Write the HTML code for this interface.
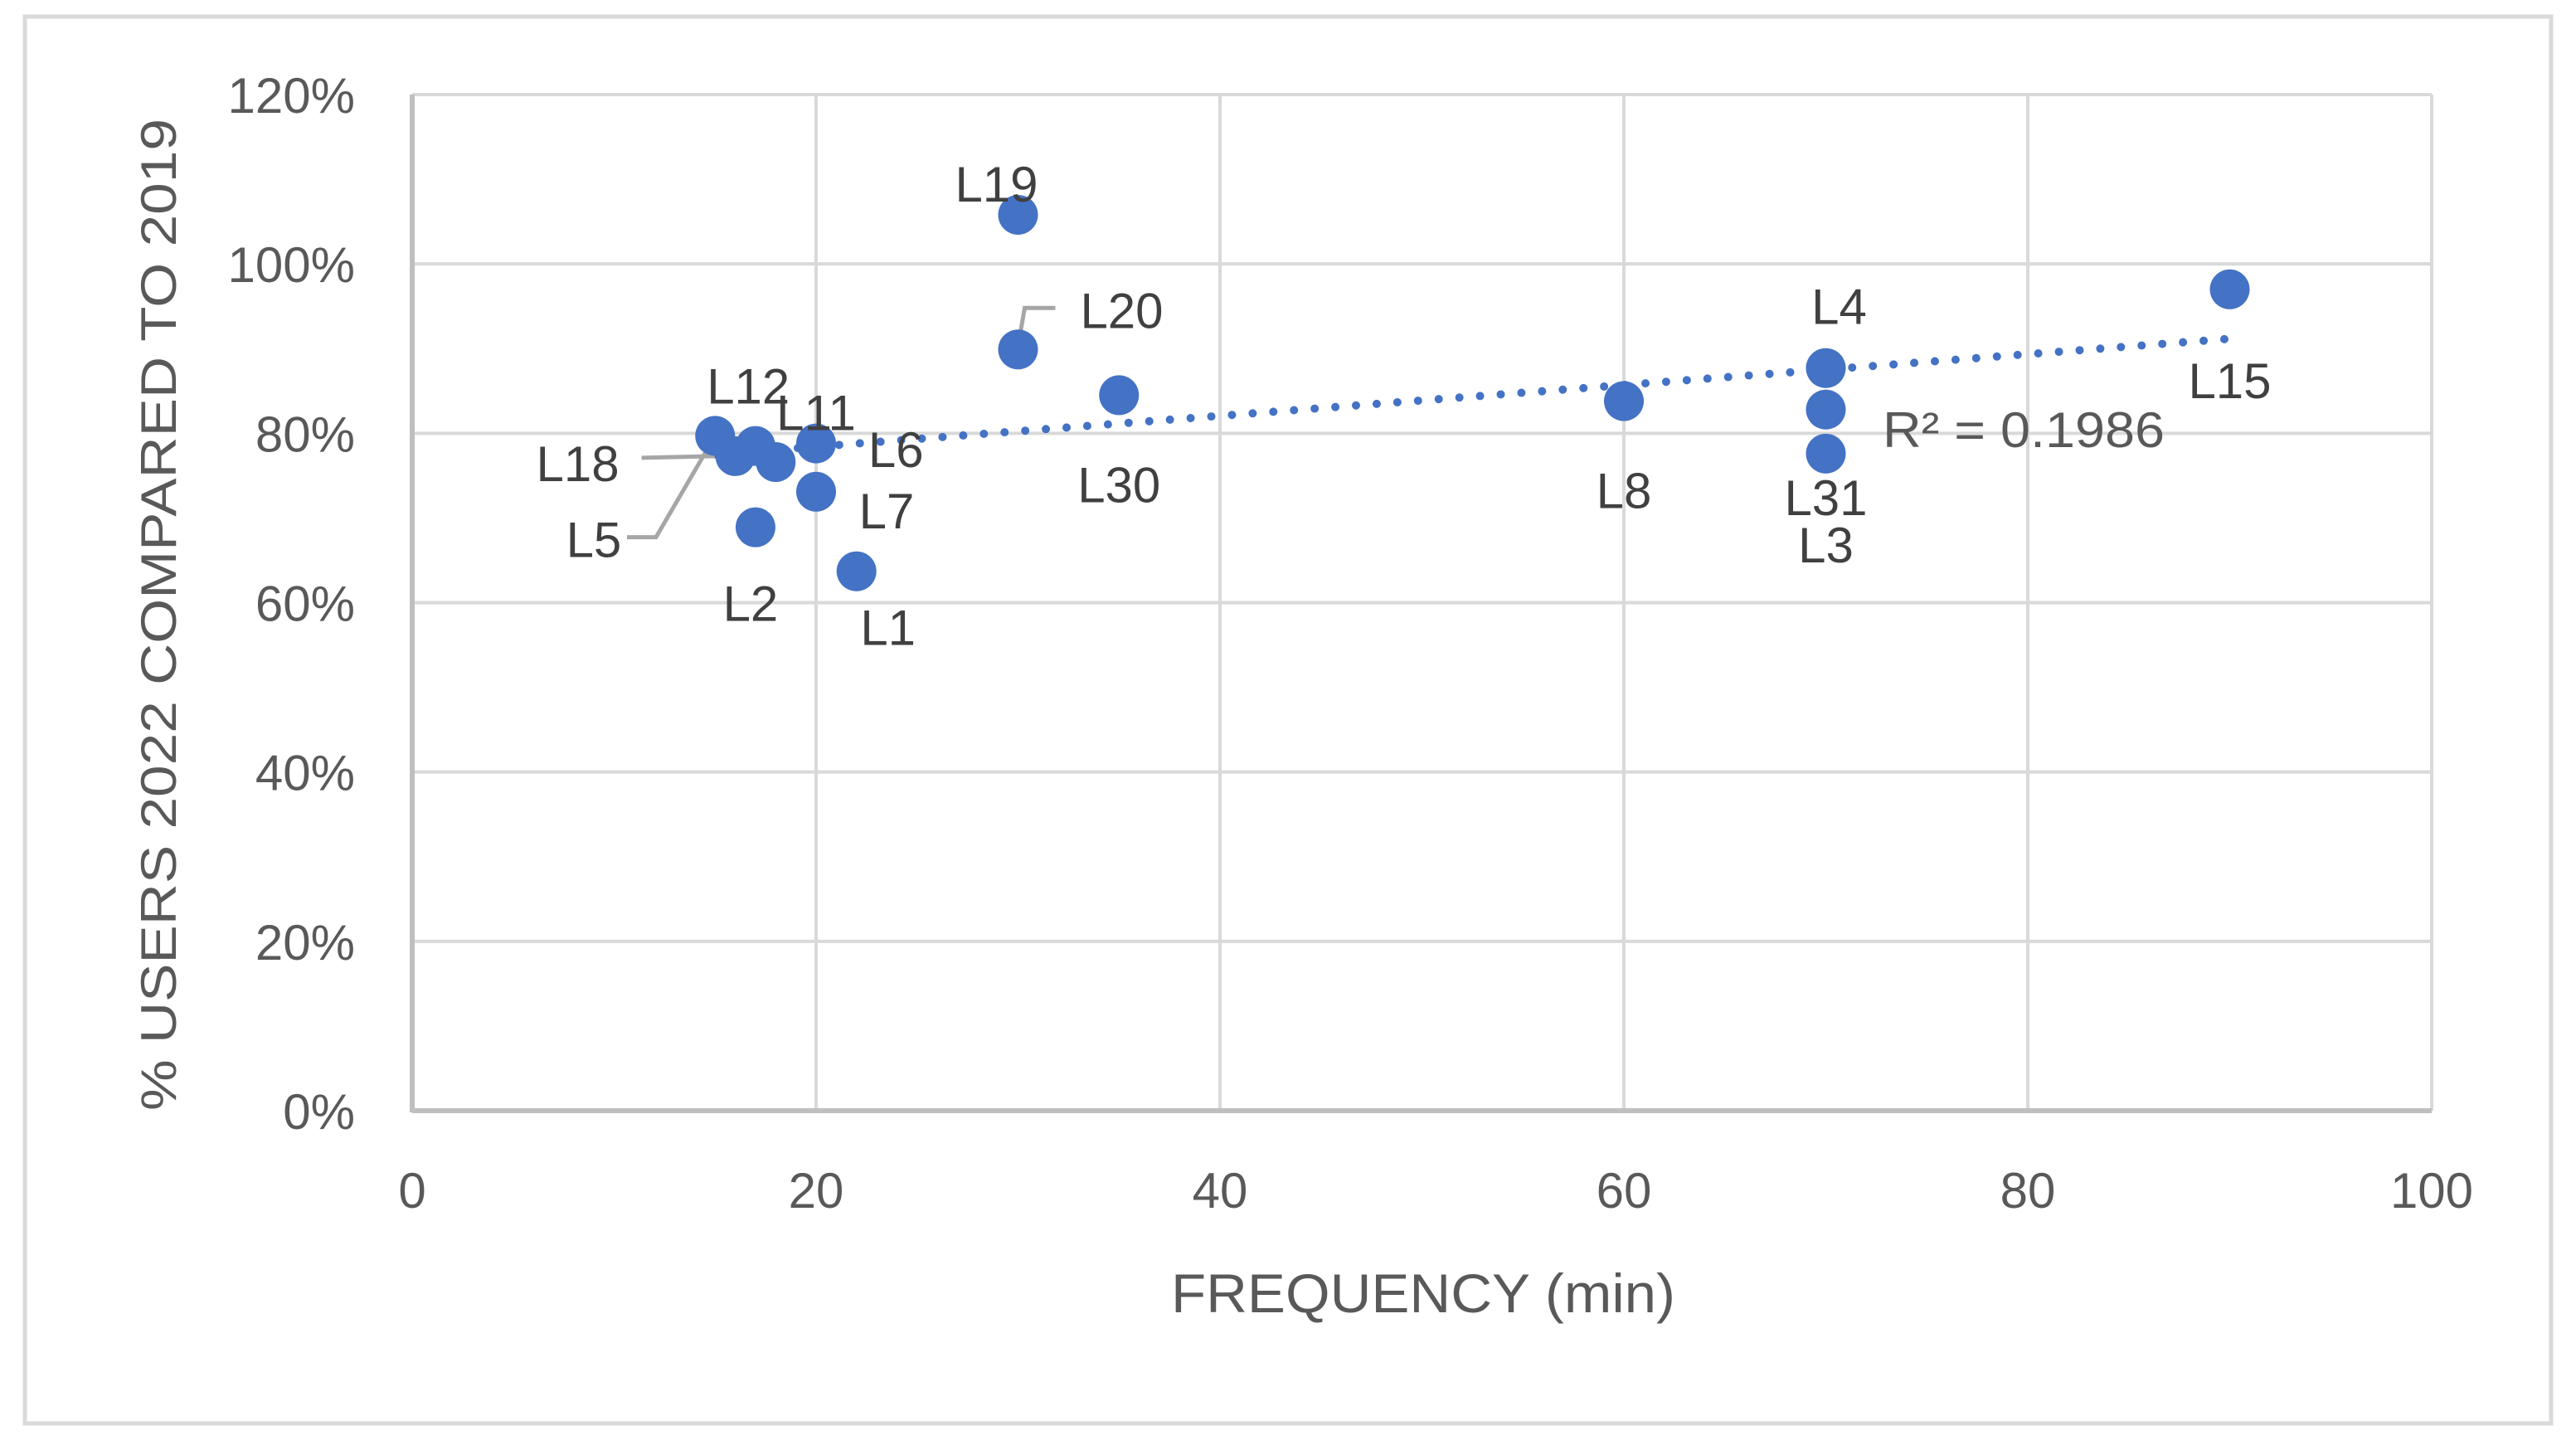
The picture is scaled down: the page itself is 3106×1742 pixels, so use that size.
<!DOCTYPE html>
<html><head><meta charset="utf-8"><style>
html,body{margin:0;padding:0;background:#fff}
svg{display:block}
text{font-family:"Liberation Sans",sans-serif}
</style></head><body>
<svg id="chart" width="3106" height="1742" viewBox="0 0 3106 1742">
<rect x="30" y="20" width="3046" height="1696" fill="#fff" stroke="#d9d9d9" stroke-width="5"/>
<g id="grid"></g>
<g id="axes"></g>
<g id="ticks"></g>
<g id="trend"></g>
<g id="leaders"></g>
<g id="points"></g>
<g id="labels"></g>
<text x="2440" y="539" font-size="60" fill="#595959" text-anchor="middle" textLength="340" lengthAdjust="spacingAndGlyphs">R² = 0.1986</text>
<text x="1716" y="1582" font-size="66" fill="#595959" text-anchor="middle" textLength="608" lengthAdjust="spacingAndGlyphs">FREQUENCY (min)</text>
<text transform="translate(212,741) rotate(-90)" font-size="60" fill="#595959" text-anchor="middle" textLength="1196" lengthAdjust="spacingAndGlyphs">% USERS 2022 COMPARED TO 2019</text>
</svg>
<script>
const labels = ["L19","L20","L30","L12","L18","L5","L6","L11","L7","L2","L1","L8","L4","L31","L3","L15"];
const xs = [30,30,35,15,16,17,18,20,20,17,22,60,70,70,70,90];
const ys = [105.8,89.9,84.5,79.7,77.3,78.5,76.6,78.8,73.1,68.9,63.7,83.8,87.7,82.8,77.6,97.0];
const xTicks = [0,20,40,60,80,100];
const yTicks = [0,20,40,60,80,100,120];
const yTickLabels = ["0%","20%","40%","60%","80%","100%","120%"];
const NS="http://www.w3.org/2000/svg";
const X0=497,X1=2932,Y0=1339,Y1=114;
function sx(v){return X0+(v-0)/(100-0)*(X1-X0);}
function sy(v){return Y0-(v-0)/(120-0)*(Y0-Y1);}
function mk(tag,attrs,parent){const e=document.createElementNS(NS,tag);for(const k in attrs)e.setAttribute(k,attrs[k]);parent.appendChild(e);return e;}
const g=id=>document.getElementById(id);
const off={L19:[-26,-38],L20:[125,-48],L30:[0,107],L12:[40,-61],L18:[-190,8],L5:[-195,112],L6:[145,-16],L11:[0,-38],L7:[85,22],L2:[-6,91],L1:[38,67],L8:[0,107],L4:[16,-75],L31:[0,105],L3:[0,109],L15:[0,109]};
yTicks.forEach((t,i)=>{
  if(t>0){const l=mk('line',{x1:X0,x2:X1,y1:sy(t),y2:sy(t),stroke:'#d9d9d9','stroke-width':4},g('grid'));
  }
  const tx=mk('text',{x:428,y:sy(t)+22,'font-size':60,fill:'#595959','text-anchor':'end'},g('ticks'));
  tx.textContent=yTickLabels[i];
  
});
xTicks.forEach(t=>{
  if(t>0){const l=mk('line',{x1:sx(t),x2:sx(t),y1:Y1,y2:Y0,stroke:'#d9d9d9','stroke-width':4},g('grid'));
  }
  const tx=mk('text',{x:sx(t),y:1456,'font-size':60,fill:'#595959','text-anchor':'middle'},g('ticks'));
  tx.textContent=String(t);
  
});
const ax1=mk('line',{x1:X0,x2:X0,y1:Y1,y2:Y0+2,stroke:'#bfbfbf','stroke-width':6},g('axes'));

const ax2=mk('line',{x1:X0,x2:X1,y1:Y0,y2:Y0,stroke:'#bfbfbf','stroke-width':6},g('axes'));

const n=xs.length;let mx=0,my=0;xs.forEach((v,i)=>{mx+=v;my+=ys[i];});mx/=n;my/=n;
let sxy=0,sxx=0;xs.forEach((v,i)=>{sxy+=(v-mx)*(ys[i]-my);sxx+=(v-mx)*(v-mx);});
const b=sxy/sxx,a=my-b*mx;const xmin=Math.min(...xs),xmax=Math.max(...xs);
const tl=mk('line',{x1:sx(xmin),y1:sy(a+b*xmin),x2:sx(xmax),y2:sy(a+b*xmax),stroke:'#4472c4','stroke-width':10,'stroke-linecap':'round','stroke-dasharray':'0 25'},g('trend'));

function lead(pts){const p=mk('polyline',{points:pts.map(q=>q.join(',')).join(' '),fill:'none',stroke:'#a6a6a6','stroke-width':5},g('leaders'));
}
xs.forEach((v,i)=>{
  const cx=sx(v),cy=sy(ys[i]);
  const c=mk('ellipse',{cx:cx,cy:cy,rx:24,ry:24,fill:'#4472c4'},g('points'));
  
  const o=off[labels[i]]||[0,-40];
  const t=mk('text',{x:cx+o[0],y:cy+o[1]+22,'font-size':60,fill:'#404040','text-anchor':'middle'},g('labels'));
  t.textContent=labels[i];
  
  if(labels[i]==='L20'){lead([[cx,cy-4],[cx+8,cy-50],[cx+45,cy-50]]);}
  if(labels[i]==='L18'){lead([[cx-113,cy+2],[cx-25,cy]]);}
  if(labels[i]==='L5'){lead([[cx-155,cy+110],[cx-120,cy+110],[cx-50,cy-10]]);}
});
</script>
</body></html>
